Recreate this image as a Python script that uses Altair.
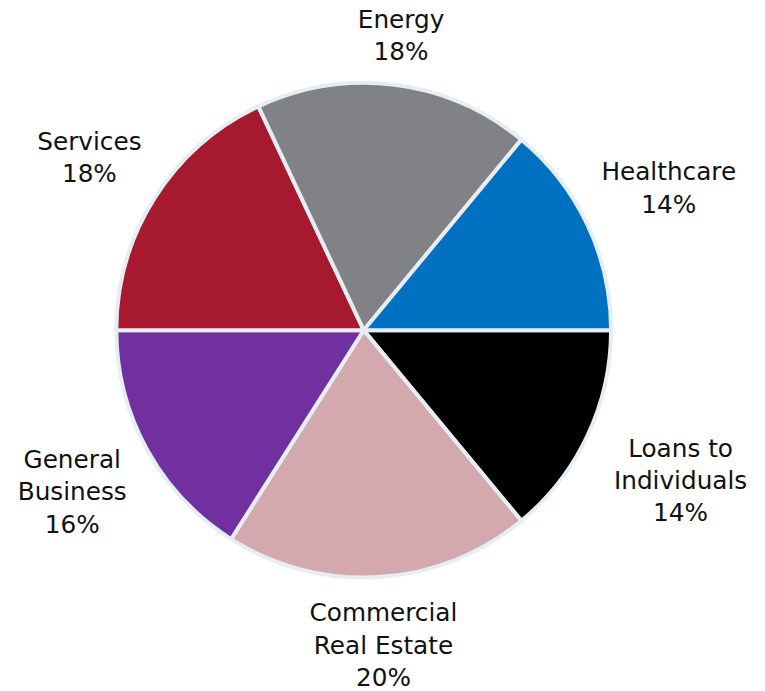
import math
import altair as alt
import pandas as pd

categories = ["Loans to Individuals", "Commercial Real Estate", "General Business",
              "Services", "Energy", "Healthcare"]
label_lines = [["Loans to", "Individuals", "14%"],
               ["Commercial", "Real Estate", "20%"],
               ["General", "Business", "16%"],
               ["Services", "18%"],
               ["Energy", "18%"],
               ["Healthcare", "14%"]]
values = [14, 20, 16, 18, 18, 14]
colors = ["#000000", "#D3A9AE", "#7030A0", "#A6192E", "#808285", "#0070C0"]

df = pd.DataFrame({
    "category": categories,
    "value": values,
    "order": list(range(len(categories))),
    "lines": label_lines,
    "nlines": [len(l) for l in label_lines],
    "maxlen": [max(len(s) for s in l) for l in label_lines],
})

W, H = 719, 632
R = 250
LH = 32.5
FS = 25
start = math.pi / 2
theta_scale = alt.Scale(range=[start, start + 2 * math.pi])

pie = alt.Chart(df).mark_arc(outerRadius=R, stroke="#E6EEF3", strokeWidth=4).encode(
    theta=alt.Theta("value:Q", stack=True, scale=theta_scale),
    order=alt.Order("order:Q", sort="ascending"),
    color=alt.Color("category:N", scale=alt.Scale(domain=categories, range=colors), legend=None),
)

labels = alt.Chart(df).transform_window(
    cum="sum(value)", sort=[alt.SortField("order", order="ascending")],
    frame=[None, 0],
).transform_joinaggregate(
    total="sum(value)"
).transform_calculate(
    mid=f"(datum.cum - datum.value/2)/datum.total*2*PI + {start}",
).transform_calculate(
    lr=f"{R + 14} + datum.maxlen*{FS * 0.278}*abs(sin(datum.mid)) + datum.nlines*{LH / 2}*abs(cos(datum.mid))"
).transform_calculate(
    px=f"{W / 2} + datum.lr*sin(datum.mid)",
    py=f"{H / 2} - datum.lr*cos(datum.mid) - (datum.nlines - 1)*{LH / 2} + 2",
).mark_text(
    font="DejaVu Sans", fontSize=FS, lineHeight=LH, color="#111111",
    align="center", baseline="middle"
).encode(
    x=alt.X("px:Q", scale=None, axis=None),
    y=alt.Y("py:Q", scale=None, axis=None),
    text="lines",
)

chart = alt.layer(pie, labels).properties(
    width=W, height=H,
    autosize=alt.AutoSizeParams(type="none"),
    padding={"left": 0, "top": 6, "right": 38, "bottom": 45},
).configure_view(stroke=None)

chart.save("out.html", embed_options={"renderer": "svg", "actions": False})
